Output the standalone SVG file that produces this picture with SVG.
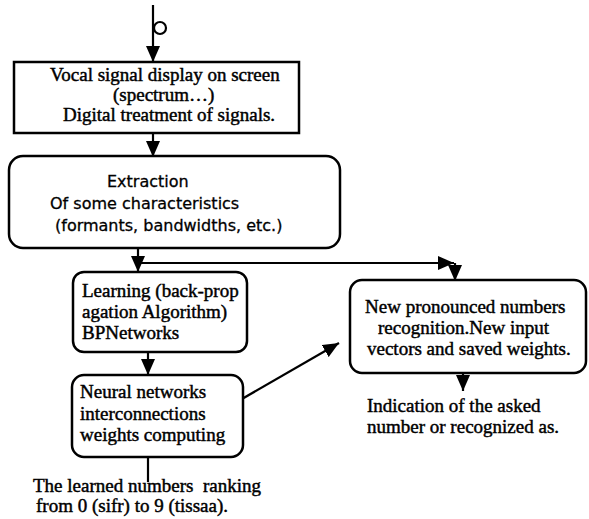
<svg xmlns="http://www.w3.org/2000/svg" width="589" height="519" viewBox="0 0 589 519">
<defs>
<style>
.box{fill:#fff;stroke:#000;stroke-width:2.5}
.ln{fill:none;stroke:#000;stroke-width:2.2}
.ser{font-family:"Liberation Serif","Times New Roman",serif;font-size:19px;fill:#000;stroke:#000;stroke-width:0.45}
.san{font-family:"DejaVu Sans",Verdana,sans-serif;font-size:16px;fill:#000;stroke:#000;stroke-width:0.3}
</style>
<marker id="ah" viewBox="0 0 16 14" refX="16" refY="7" markerWidth="16" markerHeight="14" markerUnits="userSpaceOnUse" orient="auto">
<path d="M0,0 L16,7 L0,14 Z" fill="#000"/>
</marker>
</defs>
<g id="connectors">
<path class="ln" d="M153,5 V62" marker-end="url(#ah)"/>
<circle cx="160" cy="28" r="6" fill="none" stroke="#000" stroke-width="2.2"/>
<path class="ln" d="M153,133 V157" marker-end="url(#ah)"/>
<path class="ln" d="M138,248 V272" marker-end="url(#ah)"/>
<path class="ln" d="M138,263 H454" marker-end="url(#ah)"/>
<path class="ln" d="M455,263 V281" marker-end="url(#ah)"/>
<path class="ln" d="M148,352 V375" marker-end="url(#ah)"/>
<path class="ln" d="M228,407 L339,343" marker-end="url(#ah)"/>
<path class="ln" d="M148,457 V482"/>
<path class="ln" d="M463,373 V391" marker-end="url(#ah)"/>
</g>
<g id="n1">
<rect class="box" x="14" y="62" width="285" height="71"/>
<text class="ser" x="50" y="81">Vocal signal display on screen</text>
<text class="ser" x="113" y="101">(spectrum…)</text>
<text class="ser" x="63" y="121">Digital treatment of signals.</text>
</g>
<g id="n2">
<rect class="box" x="9" y="156" width="331" height="92" rx="14"/>
<text class="san" x="107" y="187">Extraction</text>
<text class="san" x="50" y="209">Of some characteristics</text>
<text class="san" x="55" y="231">(formants, bandwidths, etc.)</text>
</g>
<g id="n3">
<rect class="box" x="73" y="272" width="174" height="80" rx="11"/>
<text class="ser" x="82" y="297">Learning (back-prop</text>
<text class="ser" x="82" y="318">agation Algorithm)</text>
<text class="ser" x="82" y="339">BPNetworks</text>
</g>
<g id="n4">
<rect class="box" x="72" y="375" width="171" height="82" rx="12"/>
<text class="ser" x="80" y="398">Neural networks</text>
<text class="ser" x="80" y="420">interconnections</text>
<text class="ser" x="80" y="441">weights computing</text>
</g>
<g id="n5">
<text class="ser" x="33" y="492" xml:space="preserve">The learned numbers  ranking</text>
<text class="ser" x="36" y="512">from 0 (sifr) to 9 (tissaa).</text>
</g>
<g id="n6">
<rect class="box" x="350" y="280" width="236" height="93" rx="12"/>
<text class="ser" x="365" y="313">New pronounced numbers</text>
<text class="ser" x="378" y="334">recognition.New input</text>
<text class="ser" x="367" y="355">vectors and saved weights.</text>
</g>
<g id="n7">
<text class="ser" x="367" y="412">Indication of the asked</text>
<text class="ser" x="367" y="433">number or recognized as.</text>
</g>
</svg>
